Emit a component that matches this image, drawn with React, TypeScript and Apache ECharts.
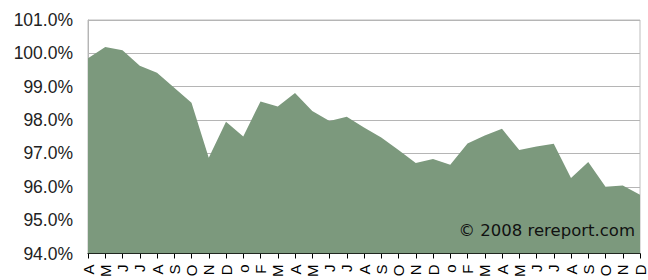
import React, { useEffect, useRef } from "react";
import * as echarts from "echarts";

const categories = [
  "A", "M", "J", "J", "A", "S", "O", "N", "D",
  "o", "F", "M", "A", "M", "J", "J", "A", "S", "O", "N", "D",
  "o", "F", "M", "A", "M", "J", "J", "A", "S", "O", "N", "D",
];

const values = [
  99.85, 100.19, 100.09, 99.63, 99.42, 98.97, 98.52, 96.87, 97.95,
  97.51, 98.56, 98.41, 98.81, 98.27, 97.97, 98.1, 97.78, 97.48, 97.1, 96.71, 96.83,
  96.66, 97.3, 97.54, 97.74, 97.1, 97.21, 97.29, 96.26, 96.74, 96.0, 96.04, 95.76,
];

const yMin = 94;
const yMax = 101;
const yStep = 1;
const copyright = "© 2008 rereport.com";

export default function App() {
  const ref = useRef<HTMLDivElement>(null);
  useEffect(() => {
    document.body.style.margin = "0";
    const chart = echarts.init(ref.current!, null, { renderer: "svg" });
    chart.setOption({
      animation: false,
      backgroundColor: "#ffffff",
      grid: {
        left: 88,
        right: 8,
        top: 20,
        bottom: 26.5,
        show: true,
        borderColor: "#bdbdbd",
        borderWidth: 1,
        backgroundColor: "transparent",
      },
      xAxis: {
        type: "category",
        data: categories,
        boundaryGap: false,
        axisLine: { show: true, lineStyle: { color: "#000", width: 1 } },
        axisTick: { show: true, interval: 0, length: 5, lineStyle: { color: "#000" } },
        axisLabel: {
          interval: 0,
          rotate: 90,
          margin: 11,
          color: "#000",
          fontSize: 15,
          fontFamily: "Liberation Sans, Arial, sans-serif",
        },
        splitLine: { show: false },
      },
      yAxis: {
        type: "value",
        min: yMin,
        max: yMax,
        interval: yStep,
        axisLine: { show: true, lineStyle: { color: "#b5b5b5" } },
        axisTick: { show: false },
        splitLine: { show: true, lineStyle: { color: "#b5b5b5", width: 1 } },
        axisLabel: {
          margin: 15,
          color: "#222",
          fontSize: 17.5,
          fontFamily: "Liberation Sans, Arial, sans-serif",
          formatter: (v: number) => v.toFixed(1) + "%",
        },
      },
      series: [
        {
          type: "line",
          data: values,
          symbol: "none",
          lineStyle: { width: 0 },
          areaStyle: { color: "#7c997d", opacity: 1, origin: "start" },
          z: 1,
        },
      ],
      graphic: [
        {
          type: "text",
          right: 13,
          top: 222,
          style: {
            text: copyright,
            fill: "#111",
            fontSize: 16.5,
            fontFamily: "DejaVu Sans, Verdana, sans-serif",
          },
          z: 100,
        },
      ],
    });
    return () => chart.dispose();
  }, []);
  return (
    <div
      ref={ref}
      style={{ position: "absolute", left: 0, top: 0, width: 648, height: 280 }}
    />
  );
}
